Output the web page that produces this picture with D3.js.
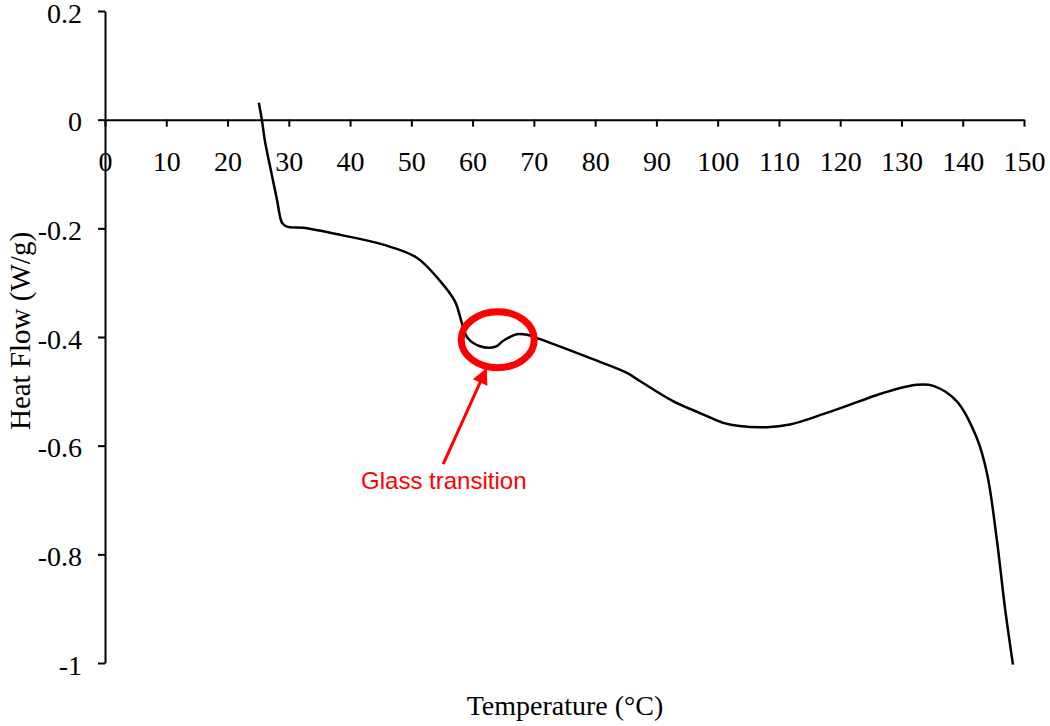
<!DOCTYPE html>
<html>
<head>
<meta charset="utf-8">
<script src="https://cdn.jsdelivr.net/npm/d3@7"></script>
<style>
  body { margin: 0; background: #fff; }
  svg { display: block; }
</style>
</head>
<body>
<div id="chart"></div>
<script>
// DSC curve: heat flow vs temperature
var temps = [25.1, 25.6, 26.1, 27.2, 28.1, 28.9, 29.7, 32.3, 38.4, 45.4, 50.9, 54.7, 57.1, 58.3, 59.2,
  61.2, 63.7, 65.0, 67.2, 68.9, 71.0, 79.2, 85.2, 87.3, 92.7, 97.1, 100.9, 103.6, 108.0, 111.8,
  117.2, 123.2, 127.0, 132.5, 135.2, 139.0, 142.3, 144.0, 145.6, 146.9, 148.2];
var heatFlow = [0.031, 0.0, -0.039, -0.1, -0.149, -0.19, -0.197, -0.199, -0.212, -0.230, -0.254, -0.297, -0.334, -0.376, -0.402,
  -0.417, -0.418, -0.407, -0.395, -0.396, -0.404, -0.439, -0.466, -0.481, -0.518, -0.540, -0.558, -0.564, -0.566, -0.561,
  -0.542, -0.518, -0.503, -0.488, -0.490, -0.518, -0.586, -0.653, -0.776, -0.899, -1.003];

var xTicks = [0, 10, 20, 30, 40, 50, 60, 70, 80, 90, 100, 110, 120, 130, 140, 150];
var yTicks = [0.2, 0, -0.2, -0.4, -0.6, -0.8, -1];
var yTickLabels = ['0.2', '0', '-0.2', '-0.4', '-0.6', '-0.8', '-1'];

var annotationText = 'Glass transition';

var width = 1050;
var height = 726;

var svg = d3.select('#chart').append('svg')
  .attr('width', width)
  .attr('height', height);

// scales
var xScale = d3.scaleLinear().domain([0, 150]).range([105, 1024]);
var yScale = d3.scaleLinear().domain([-1, 0.2]).range([663, 11]);

var serif = '"Liberation Serif", "Times New Roman", serif';

// x axis crosses at y = 0
var xaxis = d3.axisBottom(xScale)
  .tickValues(xTicks)
  .tickSize(7)
  .tickSizeOuter(0)
  .tickPadding(24)
  .tickFormat(d3.format('d'));

var gx = svg.append('g')
  .attr('transform', 'translate(0,' + yScale(0) + ')')
  .call(xaxis);

// y axis
var yaxis = d3.axisLeft(yScale)
  .tickValues(yTicks)
  .tickSize(7)
  .tickSizeOuter(0)
  .tickPadding(16)
  .tickFormat(function(d, i) { return yTickLabels[i]; });

var gy = svg.append('g')
  .attr('transform', 'translate(' + xScale(0) + ',0)')
  .call(yaxis);

[gx, gy].forEach(function(g) {
  g.selectAll('path.domain').attr('stroke', '#000').attr('stroke-width', 2);
  g.selectAll('.tick line').attr('stroke', '#000').attr('stroke-width', 2);
  g.selectAll('.tick text')
    .attr('fill', '#000')
    .style('font-family', serif)
    .style('font-size', '28px');
});
gy.selectAll('.tick text').attr('dy', '0.4em');

// the curve
var line = d3.line()
  .x(function(d) { return xScale(d[0]); })
  .y(function(d) { return yScale(d[1]); })
  .curve(d3.curveCatmullRom.alpha(0.5));

svg.append('path')
  .datum(d3.zip(temps, heatFlow))
  .attr('d', line)
  .attr('fill', 'none')
  .attr('stroke', '#000')
  .attr('stroke-width', 2.5);

// axis titles
svg.append('text')
  .attr('x', 565)
  .attr('y', 715)
  .attr('text-anchor', 'middle')
  .style('font-family', serif)
  .style('font-size', '28px')
  .text('Temperature (°C)');

svg.append('text')
  .attr('transform', 'translate(30,331) rotate(-90)')
  .attr('text-anchor', 'middle')
  .style('font-family', serif)
  .style('font-size', '29px')
  .text('Heat Flow (W/g)');

// annotation: circle + arrow + label
var red = '#ff0000';
svg.append('ellipse')
  .attr('cx', xScale(64.1))
  .attr('cy', yScale(-0.405))
  .attr('rx', xScale(64.1 + 5.96) - xScale(64.1))
  .attr('ry', yScale(-0.405) - yScale(-0.405 + 0.0516))
  .attr('fill', 'none')
  .attr('stroke', red)
  .attr('stroke-width', 7);

svg.append('defs').append('marker')
  .attr('id', 'arrowhead')
  .attr('viewBox', '0 0 10 10')
  .attr('refX', 10)
  .attr('refY', 5)
  .attr('markerUnits', 'userSpaceOnUse')
  .attr('markerWidth', 20)
  .attr('markerHeight', 16)
  .attr('orient', 'auto')
  .append('path')
  .attr('d', 'M0,0L10,5L0,10Z')
  .attr('fill', red);

svg.append('line')
  .attr('x1', xScale(55.2))
  .attr('y1', yScale(-0.634))
  .attr('x2', xScale(62.3))
  .attr('y2', yScale(-0.457))
  .attr('stroke', red)
  .attr('stroke-width', 3)
  .attr('marker-end', 'url(#arrowhead)');

svg.append('text')
  .attr('x', xScale(55.3))
  .attr('y', yScale(-0.68))
  .attr('text-anchor', 'middle')
  .attr('fill', red)
  .style('font-family', '"Liberation Sans", Arial, sans-serif')
  .style('font-size', '24px')
  .text(annotationText);
</script>
</body>
</html>
